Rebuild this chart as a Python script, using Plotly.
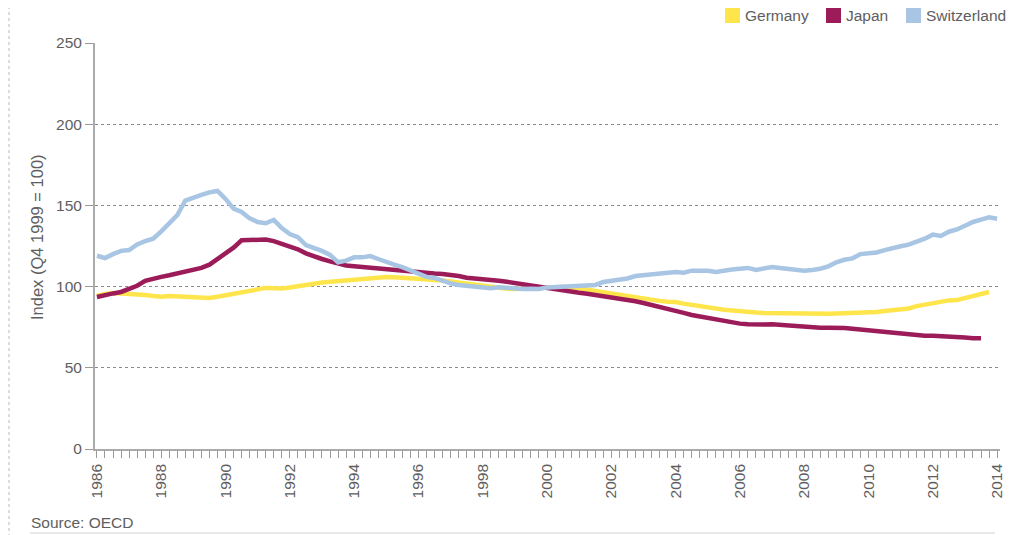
import plotly.graph_objects as go

start_year = 1986.0
step = 0.25

germany = [94.2, 95.5, 96.0, 95.8, 95.4, 95.0, 94.8, 94.2, 93.8, 94.2, 94.0, 93.6, 93.8, 93.2, 93.0, 93.8,
           94.8, 95.5, 96.2, 97.5, 98.5, 99.2, 99.0, 98.8, 99.5, 100.5, 101.2, 101.8, 102.5, 103.0, 103.4, 103.8,
           104.3, 104.8, 105.2, 105.9, 105.9, 105.7, 105.5, 105.3, 105.0, 104.7, 104.2, 103.8, 103.2, 102.5, 101.8, 101.0,
           100.4, 99.5, 99.0, 98.7, 98.5, 98.8, 99.0, 99.5, 99.8, 99.8, 99.8, 99.5, 99.0, 98.3, 97.3, 96.5,
           95.6, 95.0, 94.2, 93.4, 92.6, 91.7, 91.2, 90.7, 90.5, 89.5, 88.6, 88.0, 87.2, 86.5, 85.8, 85.2,
           84.6, 84.3, 84.0, 83.8, 83.7, 83.7, 83.8, 83.6, 83.4, 83.1, 83.1, 83.3, 83.5, 83.7, 83.7, 83.6,
           84.0, 84.4, 85.0, 85.4, 85.6, 86.5, 88.0, 89.0, 90.2, 91.2, 91.5, 91.7, 93.0, 94.2, 95.3, 96.7]

japan = [93.6, 95.0, 95.8, 96.7, 98.5, 100.5, 103.5, 105.0, 106.0, 107.0, 108.0, 109.0, 110.2, 111.5, 113.5, 117.0,
         120.5, 124.0, 128.5, 128.7, 129.3, 129.0, 128.0, 126.5, 124.5, 123.0, 120.5, 118.5, 117.0, 115.5, 114.0, 113.0,
         112.5, 112.0, 111.5, 111.0, 110.5, 110.2, 110.0, 109.5, 109.0, 108.5, 108.0, 107.8, 107.3, 106.5, 105.5, 105.2,
         104.8, 104.5, 103.6, 103.0, 102.2, 101.5, 100.8, 100.0, 99.0, 98.0, 97.3, 96.8, 96.2, 95.6, 94.9, 94.2,
         93.5, 93.0, 92.0, 91.0, 89.9, 88.8, 87.5, 86.4, 85.0, 83.8, 82.5, 81.5, 80.5, 79.5, 78.8, 78.0,
         77.2, 76.8, 76.5, 76.6, 76.8, 76.4, 76.0, 75.9, 75.5, 75.0, 74.7, 74.7, 74.7, 74.5, 74.0, 73.5,
         73.0, 72.5, 72.2, 71.7, 71.0, 70.5, 70.2, 69.8, 69.8, 69.6, 69.6, 69.2, 68.7, 68.2, 68.2]

switzerland = [119.0, 117.6, 120.0, 122.0, 122.5, 126.0, 128.0, 129.5, 134.0, 139.0, 144.0, 153.0, 155.0, 156.5, 158.0, 158.9,
               154.0, 148.0, 146.0, 142.0, 139.8, 139.0, 141.0, 136.0, 132.4, 130.5, 125.6, 124.0, 122.0, 119.5, 115.0, 116.0,
               118.0, 118.0, 118.8, 117.0, 115.0, 113.5, 112.0, 110.0, 108.0, 106.0, 105.3, 103.5, 102.0, 101.0, 100.4, 99.8,
               99.5, 99.0, 99.6, 99.0, 98.5, 98.5, 98.7, 98.5, 99.5, 99.8, 100.2, 100.4, 100.4, 100.5, 101.0, 102.8,
               103.5, 104.2, 105.0, 106.5, 107.0, 107.5, 108.4, 109.0, 109.0, 108.5, 109.8, 109.8, 109.8, 109.0, 110.0, 110.5,
               111.0, 111.5, 110.3, 111.2, 112.0, 111.5, 110.8, 110.3, 109.8, 110.2, 111.0, 112.5, 115.0, 116.5, 117.4, 120.0,
               120.6, 121.0, 122.5, 124.0, 124.8, 125.8, 127.5, 129.5, 132.0, 131.2, 133.8, 135.2, 137.5, 139.8, 141.2, 142.7,
               141.8]

names = ["Germany", "Japan", "Switzerland"]
colors = ["#FFE54C", "#9C1C5A", "#A8C5E4"]
values = [germany, japan, switzerland]

tick_years = list(range(1986, 2015, 2))
y_ticks = [0, 50, 100, 150, 200, 250]

FONT = "Liberation Sans, Arial, sans-serif"
TXT = "#5e5e5e"

# The page body has an 8px margin, so the figure is drawn 8px right/down.
OFF = 8
# plot area in screen pixels: x 95..1000, y 43..449
L, R, T, B = 95 - OFF, 1000 - OFF, 43 - OFF, 449 - OFF
W, H = R - L, B - T
def px_x(p): return (p - OFF - L) / W
def px_y(p): return (B - (p - OFF)) / H

fig = go.Figure()
for name, vals, col in zip(names, values, colors):
    xs = [start_year + i * step for i in range(len(vals))]
    fig.add_trace(go.Scatter(x=xs, y=vals, mode="lines", name=name,
                             line=dict(color=col, width=4.5), showlegend=False))

fig.update_layout(
    width=1036, height=535,
    margin=dict(l=L, r=1036 - R, t=T, b=535 - B, autoexpand=False),
    paper_bgcolor="white", plot_bgcolor="white",
    font=dict(family=FONT, size=15, color=TXT),
    showlegend=False,
    xaxis=dict(range=[1985.94, 2014.09], tickmode="array", tickvals=tick_years,
               ticktext=[str(y) for y in tick_years], tickangle=-90, automargin=False,
               ticks="outside", ticklen=7, tickcolor="#999", tickwidth=1,
               minor=dict(dtick=0.25, tick0=1986, ticks="outside", ticklen=7, tickcolor="#999", tickwidth=1,
                          showgrid=False),
               showline=True, linecolor="#aaa", linewidth=1.5, showgrid=False, zeroline=False,
               tickfont=dict(size=15.5, color=TXT)),
    yaxis=dict(range=[0, 250], tickvals=y_ticks, ticks="outside", ticklen=8, tickcolor="#999",
               showline=True, linecolor="#aaa", linewidth=2, automargin=False,
               showgrid=True, gridcolor="#8a8a8a", griddash="dot", gridwidth=1, zeroline=False,
               tickfont=dict(size=15.5, color=TXT)),
)

# y-axis title
fig.add_annotation(text="Index (Q4 1999 = 100)", xref="paper", yref="paper", x=px_x(37), y=px_y(237),
                   xanchor="center", yanchor="middle", textangle=-90, showarrow=False,
                   font=dict(size=16.5, color=TXT))

# legend (squares + labels), top right
leg_square_x = [725, 826, 906]
for name, col, sx in zip(names, colors, leg_square_x):
    fig.add_shape(type="rect", xref="paper", yref="paper",
                  x0=px_x(sx), x1=px_x(sx + 15), y0=px_y(23), y1=px_y(8),
                  fillcolor=col, line=dict(width=0))
    fig.add_annotation(text=name, xref="paper", yref="paper", x=px_x(sx + 18), y=px_y(16),
                       xanchor="left", yanchor="middle", showarrow=False,
                       font=dict(size=15.5, color=TXT))

fig.add_annotation(text="Source: OECD", xref="paper", yref="paper", x=px_x(29), y=px_y(522),
                   xanchor="left", yanchor="middle", showarrow=False, font=dict(size=15.5, color=TXT))
# decorative frame lines
fig.add_shape(type="line", xref="paper", yref="paper", x0=px_x(9), x1=px_x(9), y0=px_y(0), y1=px_y(535),
              line=dict(color="#bbb", width=1, dash="dot"))
fig.add_shape(type="line", xref="paper", yref="paper", x0=px_x(30), x1=px_x(995), y0=px_y(533), y1=px_y(533),
              line=dict(color="#e2e2e2", width=1.5))

fig.write_html("out.html")
